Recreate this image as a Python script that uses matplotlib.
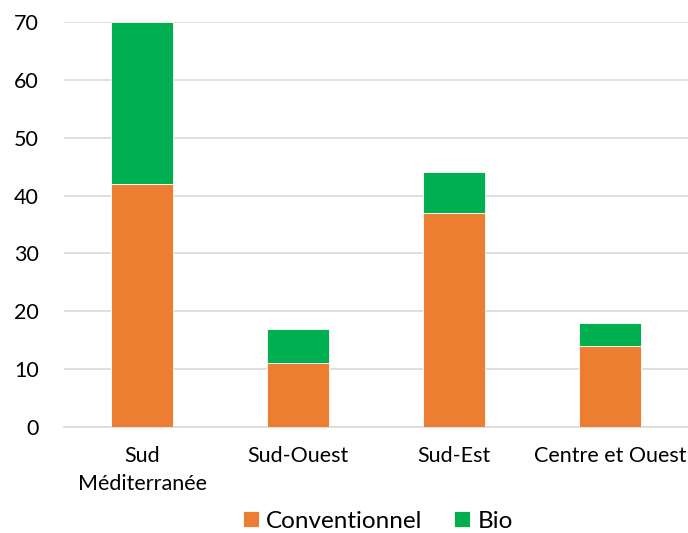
import numpy as np
import matplotlib.pyplot as plt

regions = ['Sud\nMéditerranée', 'Sud-Ouest', 'Sud-Est', 'Centre et Ouest']
conventionnel = [42, 11, 37, 14]
bio = [28, 6, 7, 4]

plt.rcParams['font.family'] = ['Lato', 'DejaVu Sans']

fig = plt.figure(figsize=(6.88, 5.33), dpi=100)
ax = fig.add_axes([64 / 688, 1 - 427 / 533, 624 / 688, 405 / 533])

x = np.arange(len(regions))
w = 0.40
ax.bar(x, conventionnel, w, color='#ED7D31', label='Conventionnel',
       edgecolor='white', linewidth=0.6, zorder=3)
ax.bar(x, bio, w, bottom=conventionnel, color='#00B050', label='Bio',
       edgecolor='white', linewidth=0.6, zorder=3)

ax.set_xlim(-0.5, len(regions) - 0.5)
ax.set_ylim(0, 70)
ax.set_yticks(range(0, 71, 10))
ax.set_xticks(x)
ax.set_xticklabels(regions, linespacing=1.5)
ax.grid(axis='y', color='#D9D9D9', linewidth=1.2, zorder=0)
for s in ['top', 'right', 'left']:
    ax.spines[s].set_visible(False)
ax.spines['bottom'].set_color('#D9D9D9')
ax.spines['bottom'].set_linewidth(1.2)
ax.tick_params(axis='both', length=0, labelsize=15.5, colors='black')
ax.tick_params(axis='y', pad=18)
ax.tick_params(axis='x', pad=14)

fig.legend(*ax.get_legend_handles_labels(), loc='center',
           bbox_to_anchor=(378 / 688, 1 - 521 / 533), ncol=2,
           frameon=False, fontsize=17.5, handlelength=0.66, handleheight=0.66,
           columnspacing=1.3, handletextpad=0.3, borderpad=0)

fig.savefig('out.png', dpi=100)
